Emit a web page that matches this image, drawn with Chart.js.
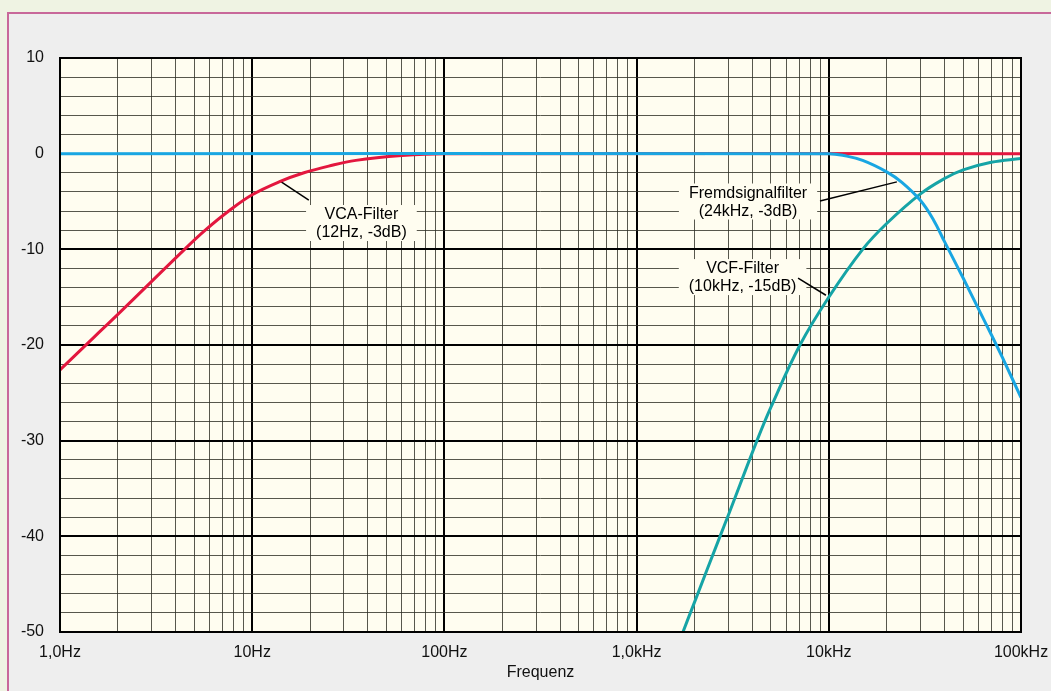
<!DOCTYPE html>
<html>
<head>
<meta charset="utf-8">
<script src="https://cdn.jsdelivr.net/npm/chart.js@4.4.1/dist/chart.umd.min.js"></script>
<style>
  html, body { margin: 0; padding: 0; width: 1051px; height: 691px; overflow: hidden; background: #eff3e3; }
  #frame { position: absolute; left: 7px; top: 12px; width: 1060px; height: 700px; background: #eeeeee;
           border-left: 2px solid #c8689a; border-top: 2px solid #c8689a; }
  #c { position: absolute; left: 0; top: 0; }
</style>
</head>
<body>
<div id="frame"></div>
<canvas id="c" width="1051" height="691"></canvas>
<script>
// ---- data ----
const vcaFreq = [1, 1.5, 2, 3, 4.45, 5.7, 7.55, 10, 14, 18.6, 25, 34.6, 60, 100, 100000];
const vcaDb   = [-22.6, -19.2, -16.8, -13.35, -10.0, -8.0, -6.0, -4.3, -2.9, -2.0, -1.3, -0.7, -0.2, 0, 0];

const vcfFreq = [1650, 1743, 2000, 2717, 3000, 4230, 5000, 7080, 10000, 15000, 20000, 30000, 40000, 50000, 70000, 100000];
const vcfDb   = [-51.3, -50, -46.9, -40, -37.8, -30, -26.5, -20, -15.0, -10.0, -7.3, -4.2, -2.6, -1.7, -0.9, -0.5];

const fremdFreq = [1, 10000, 12000, 15000, 20000, 24000, 30000, 35000, 40000, 50000, 60000, 70000, 80000, 100000];
const fremdDb   = [0, 0, -0.2, -0.7, -1.9, -3.0, -4.9, -6.9, -9.2, -13.0, -16.2, -18.9, -21.3, -25.5];

const xTickValues = [1, 10, 100, 1000, 10000, 100000];
const xTickLabels = ['1,0Hz', '10Hz', '100Hz', '1,0kHz', '10kHz', '100kHz'];
const yTickLabels = ['10', '0', '-10', '-20', '-30', '-40', '-50'];
const xTitle = 'Frequenz';

// annotation labels: lines, centre (freq, dB), leader from (f,dB) to (f,dB)
const noteVCA   = { lines: ['VCA-Filter', '(12Hz, -3dB)'],        f: 37,   db: -7.25, from: [19.7, -4.85], to: [13.9, -2.85] };
const noteFremd = { lines: ['Fremdsignalfilter', '(24kHz, -3dB)'], f: 3800, db: -5.0,  from: [9000, -4.95], to: [22600, -2.95] };
const noteVCF   = { lines: ['VCF-Filter', '(10kHz, -15dB)'],      f: 3560, db: -12.9, from: [6920, -13.0], to: [9660, -14.8] };
const notes = [noteVCA, noteFremd, noteVCF];

const toPts = (fs, ds) => fs.map((f, i) => ({ x: f, y: ds[i] }));

// minor + major x grid values
const xGridValues = [];
for (let d = 1; d < 100000; d *= 10) for (let m = 1; m <= 9; m++) xGridValues.push(d * m);
xGridValues.push(100000);

const isDecade = v => Math.abs(Math.log10(v) - Math.round(Math.log10(v))) < 1e-9;

const FONT = "'Liberation Sans', Arial, sans-serif";

const bgPlugin = {
  id: 'bg',
  beforeDraw(chart) {
    const { ctx, chartArea: a } = chart;
    ctx.save();
    ctx.fillStyle = '#fffdf0';
    ctx.fillRect(a.left, a.top, a.right - a.left, a.bottom - a.top);
    ctx.restore();
  },
  beforeDatasetsDraw(chart) {
    const { ctx } = chart;
    const xs = chart.scales.x, ys = chart.scales.y;
    ctx.save();
    ctx.font = '16px ' + FONT;
    ctx.textAlign = 'center';
    ctx.textBaseline = 'middle';
    notes.forEach(n => {
      const cx = xs.getPixelForValue(n.f), cy = ys.getPixelForValue(n.db);
      const w = Math.max(...n.lines.map(l => ctx.measureText(l).width));
      ctx.fillStyle = '#fffdf0';
      ctx.fillRect(cx - w / 2 - 10, cy - 18, w + 20, 36);
      ctx.fillStyle = '#000';
      n.lines.forEach((l, i) => ctx.fillText(l, cx, cy - 9 + i * 18 + 1));
      ctx.strokeStyle = '#000';
      ctx.lineWidth = 1.5;
      ctx.beginPath();
      ctx.moveTo(xs.getPixelForValue(n.from[0]), ys.getPixelForValue(n.from[1]));
      ctx.lineTo(xs.getPixelForValue(n.to[0]), ys.getPixelForValue(n.to[1]));
      ctx.stroke();
    });
    ctx.restore();
  },
  afterDraw(chart) {
    const { ctx, chartArea: a } = chart;
    ctx.save();
    ctx.strokeStyle = '#000';
    ctx.lineWidth = 2;
    ctx.strokeRect(a.left, a.top, a.right - a.left, a.bottom - a.top);
    ctx.restore();
  }
};

const lineStyle = { borderWidth: 3, pointRadius: 0, tension: 0.4, cubicInterpolationMode: 'default' };

new Chart(document.getElementById('c'), {
  type: 'line',
  data: {
    datasets: [
      Object.assign({ label: 'VCA-Filter', data: toPts(vcaFreq, vcaDb), borderColor: '#e3173e', order: 3 }, lineStyle),
      Object.assign({ label: 'VCF-Filter', data: toPts(vcfFreq, vcfDb), borderColor: '#16a4a6', order: 2 }, lineStyle),
      Object.assign({ label: 'Fremdsignalfilter', data: toPts(fremdFreq, fremdDb), borderColor: '#19a6e2', order: 1 }, lineStyle)
    ]
  },
  options: {
    responsive: false,
    animation: false,
    layout: { padding: { left: 0, top: 58, right: 30, bottom: 0 } },
    plugins: { legend: { display: false }, tooltip: { enabled: false } },
    scales: {
      x: {
        type: 'logarithmic',
        min: 1, max: 100000,
        afterBuildTicks: s => { s.ticks = xGridValues.map(v => ({ value: v })); },
        afterFit: s => { s.height = 59; s.paddingLeft = 0; s.paddingRight = 0; },
        ticks: {
          autoSkip: false, maxRotation: 0, minRotation: 0, padding: 11,
          color: '#111', font: { family: FONT, size: 16 },
          callback: v => { const i = xTickValues.findIndex(t => Math.abs(t - v) < 1e-6 * t); return i >= 0 ? xTickLabels[i] : ''; }
        },
        grid: {
          drawTicks: false,
          color: c => isDecade(c.tick.value) ? '#000' : 'rgba(45,45,35,0.8)',
          lineWidth: c => isDecade(c.tick.value) ? 2 : 1
        },
        border: { display: false },
        title: { display: true, text: xTitle, color: '#111', font: { family: FONT, size: 16 }, padding: { top: 0, bottom: 9 } }
      },
      y: {
        type: 'linear',
        min: -50, max: 10,
        afterFit: s => { s.width = 60; s.paddingTop = 0; s.paddingBottom = 0; },
        ticks: {
          stepSize: 2, autoSkip: false, padding: 16,
          color: '#111', font: { family: FONT, size: 16 },
          callback: v => { const i = yTickLabels.indexOf(String(v)); return i >= 0 ? yTickLabels[i] : ''; }
        },
        grid: {
          drawTicks: false,
          color: c => (c.tick.value % 10 === 0) ? '#000' : 'rgba(45,45,35,0.8)',
          lineWidth: c => (c.tick.value % 10 === 0) ? 2 : 1
        },
        border: { display: false }
      }
    }
  },
  plugins: [bgPlugin]
});
</script>
</body>
</html>
